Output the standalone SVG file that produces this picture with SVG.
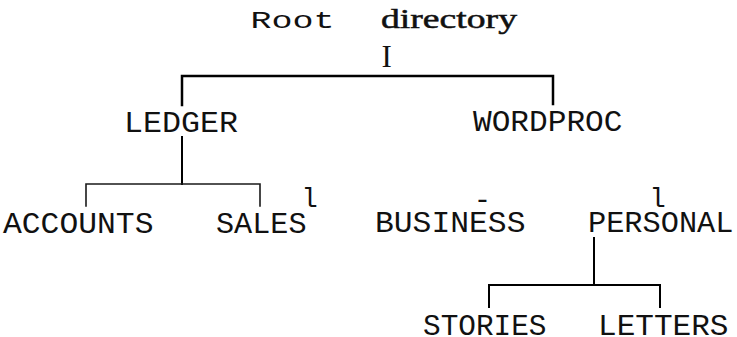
<svg xmlns="http://www.w3.org/2000/svg" width="737" height="337" viewBox="0 0 737 337">
<style>
.m{font-family:"Liberation Mono","DejaVu Sans Mono",monospace;font-size:29px;fill:#111}
.c{stroke:#000;fill:none;stroke-linecap:square}
.thick{stroke-width:2.5}
.mid{stroke-width:2}
.thin{stroke-width:1.6;stroke:#1a1a1a}
</style>
<rect width="737" height="337" fill="#fff"/>
<g id="root">
<text x="250.5" y="27.8" style="font-family:'Liberation Mono',monospace;font-size:23px;fill:#111" textLength="84" lengthAdjust="spacingAndGlyphs">Root</text>
<text x="381" y="27.5" style="font-family:'Liberation Serif',serif;font-size:27px;fill:#111;stroke:#111;stroke-width:0.5" textLength="136" lengthAdjust="spacingAndGlyphs">directory</text>
<text x="381.5" y="66.7" style="font-family:'Liberation Serif',serif;font-size:31px;fill:#111">I</text>
</g>
<g id="connectors">
<path class="c thick" d="M182 76 H553 M182 76 V105 M553 76 V104"/>
<path class="c mid" d="M182 137 V184"/>
<path class="c thin" d="M86 184 H260 M86 184 V206 M260 184 V206"/>
<path class="c mid" d="M594 238 V285 M489 285 H660 M489 285 V307 M660 285 V307"/>
</g>
<g id="ledger"><text class="m" x="124" y="131.7" textLength="114" lengthAdjust="spacingAndGlyphs">LEDGER</text></g>
<g id="wordproc"><text class="m" x="473" y="130.5" textLength="149.5" lengthAdjust="spacingAndGlyphs">WORDPROC</text></g>
<g id="accounts"><text class="m" x="3" y="233" textLength="150.5" lengthAdjust="spacingAndGlyphs">ACCOUNTS</text></g>
<g id="sales"><text class="m" x="216" y="233" textLength="90.5" lengthAdjust="spacingAndGlyphs">SALES</text></g>
<g id="business"><text class="m" x="375" y="232" textLength="150.5" lengthAdjust="spacingAndGlyphs">BUSINESS</text></g>
<g id="personal"><text class="m" x="588" y="232" textLength="145.5" lengthAdjust="spacingAndGlyphs">PERSONAL</text></g>
<g id="stories"><text class="m" x="423" y="334.5" textLength="123.5" lengthAdjust="spacingAndGlyphs">STORIES</text></g>
<g id="letters"><text class="m" x="598" y="334.5" textLength="130.5" lengthAdjust="spacingAndGlyphs">LETTERS</text></g>
<g id="marks">
<text class="m" x="309.5" y="206.7" text-anchor="middle" style="font-size:27px">l</text>
<text class="m" x="482.5" y="208.5" text-anchor="middle">-</text>
<text class="m" x="657.5" y="206.7" text-anchor="middle" style="font-size:27px">l</text>
</g>
</svg>
